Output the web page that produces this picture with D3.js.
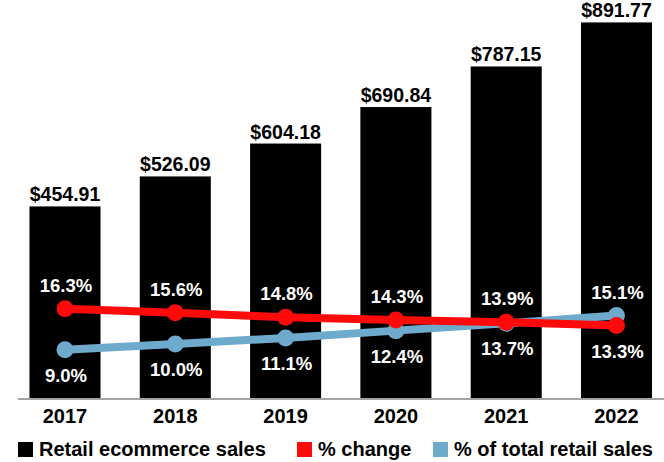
<!DOCTYPE html>
<html>
<head>
<meta charset="utf-8">
<script src="https://cdn.jsdelivr.net/npm/d3@7"></script>
<style>
  html, body { margin: 0; padding: 0; background: #fff; }
  svg { display: block; }
  text { font-family: "Liberation Sans", Arial, sans-serif; font-weight: bold; }
</style>
</head>
<body>
<svg id="chart" width="664" height="462"></svg>
<script>
// Retail ecommerce sales (billions) with growth and share of total retail
const years = ["2017", "2018", "2019", "2020", "2021", "2022"];
const sales = [454.91, 526.09, 604.18, 690.84, 787.15, 891.77];
const pctChange = [16.3, 15.6, 14.8, 14.3, 13.9, 13.3];
const pctTotal = [9.0, 10.0, 11.1, 12.4, 13.7, 15.1];
const legendLabels = ["Retail ecommerce sales", "% change", "% of total retail sales"];

const colors = { sales: "#000000", change: "#ff0a0a", total: "#6eaacb" };

const svg = d3.select("#chart");

const x = d3.scaleBand()
  .domain(years)
  .range([9.85, 671.65])
  .paddingInner(0.356)
  .paddingOuter(0.178);

const ySales = d3.scaleLinear().domain([0, 945]).range([398, 0]);
const yPct = d3.scaleLinear().domain([0, 71.5]).range([400, 0]);

const cx = d => x(d) + x.bandwidth() / 2;

// bars
svg.append("g").selectAll("rect")
  .data(years)
  .join("rect")
  .attr("x", d => x(d))
  .attr("y", (d, i) => ySales(sales[i]))
  .attr("width", x.bandwidth())
  .attr("height", (d, i) => ySales(0) - ySales(sales[i]))
  .attr("fill", colors.sales);

// bar value labels
svg.append("g").selectAll("text")
  .data(years)
  .join("text")
  .attr("x", d => cx(d))
  .attr("y", (d, i) => ySales(sales[i]) - 5)
  .attr("text-anchor", "middle")
  .attr("font-size", 19.5)
  .attr("fill", "#000")
  .text((d, i) => "$" + d3.format(".2f")(sales[i]));

// baseline
svg.append("line")
  .attr("x1", 18).attr("x2", 664)
  .attr("y1", 399).attr("y2", 399)
  .attr("stroke", "#a3a3a3")
  .attr("stroke-width", 2);

// x axis labels
const xAxis = d3.axisBottom(x).tickSize(0).tickPadding(0);
const gx = svg.append("g").attr("transform", "translate(0,404)").call(xAxis);
gx.select(".domain").remove();
gx.selectAll("text")
  .attr("font-family", "'Liberation Sans', Arial, sans-serif")
  .attr("font-weight", "bold")
  .attr("font-size", 20)
  .attr("fill", "#000")
  .attr("dy", "0.95em");

// lines: share of total first, % change on top
const series = [
  { key: "total", values: pctTotal, color: colors.total },
  { key: "change", values: pctChange, color: colors.change }
];

const line = d3.line()
  .x(d => cx(d.year))
  .y(d => yPct(d.v));

series.forEach(s => {
  const pts = years.map((yr, i) => ({ year: yr, v: s.values[i] }));
  const g = svg.append("g").attr("class", "series-" + s.key);
  g.append("path")
    .datum(pts)
    .attr("d", line)
    .attr("fill", "none")
    .attr("stroke", s.color)
    .attr("stroke-width", 8)
    .attr("stroke-linecap", "round");
  g.selectAll("circle")
    .data(pts)
    .join("circle")
    .attr("cx", d => cx(d.year))
    .attr("cy", d => yPct(d.v))
    .attr("r", 8.5)
    .attr("fill", s.color);
});

// percentage labels: higher value above its point, lower value below
const pctFmt = d3.format(".1f");
const labelG = svg.append("g");
years.forEach((yr, i) => {
  const a = pctChange[i], b = pctTotal[i];
  const hi = Math.max(a, b), lo = Math.min(a, b);
  labelG.append("text")
    .attr("x", cx(yr) + 1)
    .attr("y", yPct(hi) - 17)
    .attr("text-anchor", "middle")
    .attr("font-size", 18.5)
    .attr("fill", "#fff")
    .text(pctFmt(hi) + "%");
  labelG.append("text")
    .attr("x", cx(yr) + 1)
    .attr("y", yPct(lo) + 32)
    .attr("text-anchor", "middle")
    .attr("font-size", 18.5)
    .attr("fill", "#fff")
    .text(pctFmt(lo) + "%");
});

// legend
const legendItems = [
  { label: legendLabels[0], color: colors.sales, x: 18 },
  { label: legendLabels[1], color: colors.change, x: 297 },
  { label: legendLabels[2], color: colors.total, x: 433 }
];
const lg = svg.append("g");
legendItems.forEach(it => {
  lg.append("rect")
    .attr("x", it.x).attr("y", 442)
    .attr("width", 15).attr("height", 15)
    .attr("fill", it.color);
  lg.append("text")
    .attr("x", it.x + 21)
    .attr("y", 456)
    .attr("font-size", 20)
    .attr("fill", "#000")
    .text(it.label);
});
</script>
</body>
</html>
